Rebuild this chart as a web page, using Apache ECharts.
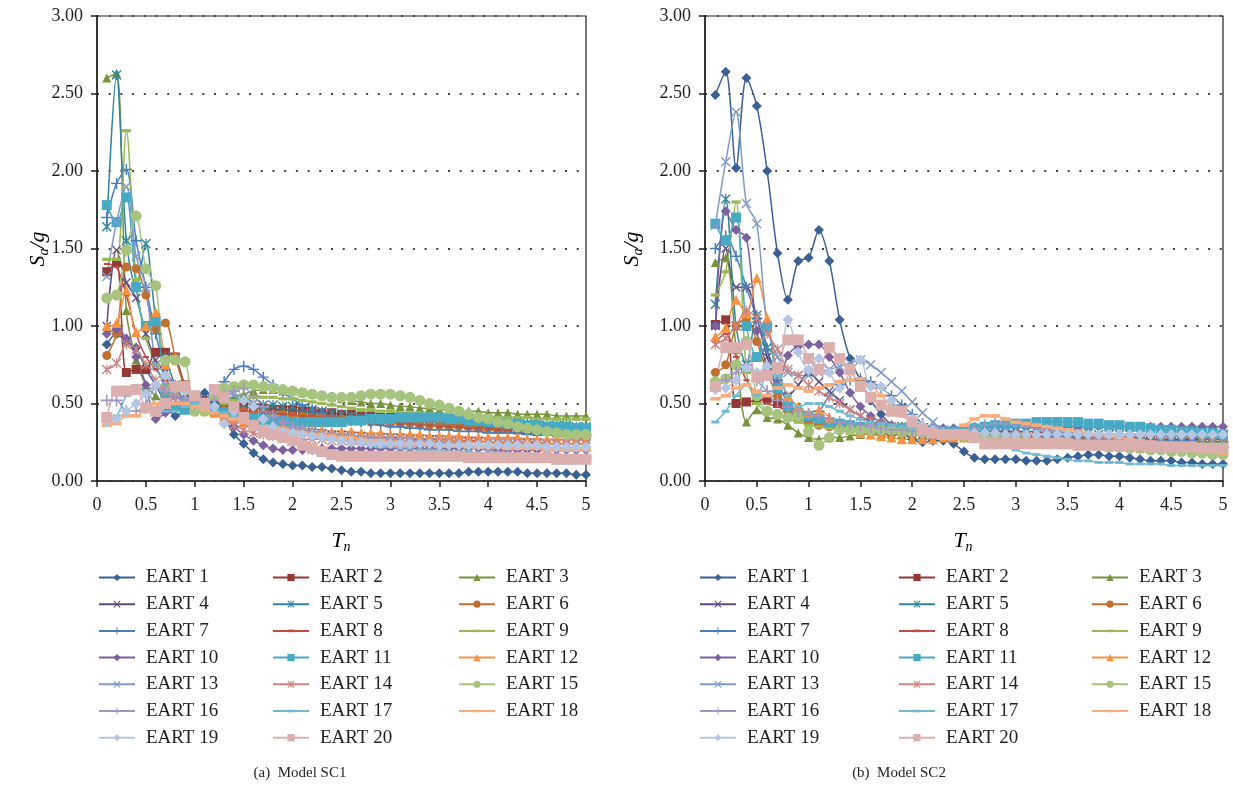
<!DOCTYPE html>
<html>
<head>
<meta charset="utf-8">
<title>Spectral acceleration – Models SC1 and SC2</title>
<script src="https://cdn.jsdelivr.net/npm/echarts@6/dist/echarts.min.js"></script>
<style>
  html, body { margin: 0; padding: 0; background: #ffffff; }
  #chart { width: 1233px; height: 793px; }
</style>
</head>
<body>
<div id="chart"></div>
<script>
// Natural periods T_n (s)
const periods = [0.1,0.2,0.3,0.4,0.5,0.6,0.7,0.8,0.9,1.0,
                 1.1,1.2,1.3,1.4,1.5,1.6,1.7,1.8,1.9,2.0,
                 2.1,2.2,2.3,2.4,2.5,2.6,2.7,2.8,2.9,3.0,
                 3.1,3.2,3.3,3.4,3.5,3.6,3.7,3.8,3.9,4.0,
                 4.1,4.2,4.3,4.4,4.5,4.6,4.7,4.8,4.9,5.0];

const xTicks = [0, 0.5, 1, 1.5, 2, 2.5, 3, 3.5, 4, 4.5, 5];
const yTicks = [0, 0.5, 1, 1.5, 2, 2.5, 3];

const recordNames = ['EART 1','EART 2','EART 3','EART 4','EART 5','EART 6','EART 7','EART 8','EART 9','EART 10',
                     'EART 11','EART 12','EART 13','EART 14','EART 15','EART 16','EART 17','EART 18','EART 19','EART 20'];

// ---- Model SC1: Sa/g for each record ----
const sc1E1  = [0.88,0.95,0.90,0.86,0.72,0.62,0.50,0.42,0.46,0.52, 0.57,0.52,0.42,0.30,0.24,0.18,0.14,0.12,0.11,0.10, 0.10,0.09,0.09,0.08,0.07,0.06,0.06,0.05,0.05,0.05, 0.05,0.05,0.05,0.05,0.05,0.05,0.05,0.06,0.06,0.06, 0.06,0.06,0.06,0.05,0.05,0.05,0.05,0.05,0.04,0.04];
const sc1E2  = [1.35,1.41,0.70,0.72,0.72,0.83,0.83,0.80,0.62,0.55, 0.52,0.50,0.50,0.49,0.48,0.47,0.47,0.46,0.46,0.46, 0.45,0.45,0.44,0.44,0.43,0.43,0.42,0.42,0.41,0.41, 0.40,0.40,0.39,0.39,0.38,0.37,0.37,0.36,0.35,0.35, 0.34,0.34,0.33,0.33,0.32,0.32,0.31,0.31,0.30,0.30];
const sc1E3  = [2.60,2.63,1.10,0.78,0.62,0.55,0.50,0.48,0.50,0.52, 0.50,0.50,0.52,0.54,0.56,0.58,0.59,0.59,0.58,0.58, 0.57,0.56,0.55,0.54,0.53,0.52,0.51,0.50,0.50,0.49, 0.48,0.48,0.47,0.47,0.46,0.46,0.45,0.45,0.45,0.44, 0.44,0.44,0.43,0.43,0.43,0.43,0.42,0.42,0.42,0.42];
const sc1E4  = [1.00,1.49,1.28,1.18,0.95,0.78,0.70,0.62,0.56,0.52, 0.50,0.48,0.46,0.44,0.42,0.40,0.38,0.36,0.35,0.34, 0.33,0.32,0.31,0.30,0.30,0.29,0.29,0.28,0.28,0.28, 0.28,0.27,0.27,0.27,0.27,0.26,0.26,0.26,0.26,0.25, 0.25,0.25,0.25,0.25,0.25,0.24,0.24,0.24,0.24,0.24];
const sc1E5  = [1.64,2.62,1.55,1.25,1.53,1.05,0.80,0.62,0.52,0.48, 0.50,0.52,0.52,0.51,0.50,0.50,0.49,0.49,0.48,0.48, 0.47,0.46,0.45,0.44,0.43,0.42,0.41,0.41,0.40,0.40, 0.40,0.40,0.40,0.39,0.39,0.39,0.38,0.38,0.38,0.38, 0.37,0.37,0.37,0.37,0.36,0.36,0.36,0.36,0.35,0.35];
const sc1E6  = [0.81,0.95,1.38,1.37,1.20,0.98,1.02,0.80,0.60,0.50, 0.48,0.47,0.46,0.45,0.45,0.44,0.44,0.43,0.43,0.42, 0.42,0.41,0.41,0.40,0.40,0.39,0.39,0.38,0.38,0.37, 0.37,0.37,0.36,0.36,0.36,0.35,0.35,0.35,0.34,0.34, 0.34,0.34,0.33,0.33,0.33,0.33,0.32,0.32,0.32,0.32];
const sc1E7  = [1.70,1.92,2.01,1.55,1.25,0.95,0.72,0.58,0.52,0.50, 0.52,0.55,0.64,0.72,0.74,0.72,0.67,0.62,0.57,0.53, 0.49,0.46,0.44,0.42,0.40,0.39,0.38,0.37,0.36,0.35, 0.35,0.34,0.34,0.33,0.33,0.33,0.32,0.32,0.32,0.31, 0.31,0.31,0.31,0.30,0.30,0.30,0.30,0.30,0.29,0.29];
const sc1E8  = [1.40,1.38,1.20,0.95,0.80,0.72,0.65,0.58,0.52,0.48, 0.47,0.47,0.46,0.46,0.45,0.45,0.44,0.44,0.43,0.43, 0.42,0.42,0.41,0.41,0.40,0.40,0.39,0.39,0.38,0.38, 0.37,0.37,0.36,0.36,0.35,0.35,0.35,0.34,0.34,0.34, 0.33,0.33,0.33,0.32,0.32,0.32,0.31,0.31,0.31,0.30];
const sc1E9  = [1.43,1.43,2.26,1.30,0.92,0.75,0.62,0.55,0.50,0.48, 0.48,0.48,0.50,0.52,0.53,0.54,0.54,0.54,0.53,0.53, 0.52,0.51,0.50,0.49,0.48,0.47,0.46,0.46,0.45,0.45, 0.44,0.44,0.44,0.43,0.43,0.43,0.42,0.42,0.42,0.42, 0.41,0.41,0.41,0.41,0.40,0.40,0.40,0.40,0.40,0.40];
const sc1E10 = [0.95,0.98,0.92,0.80,0.62,0.40,0.44,0.55,0.50,0.48, 0.50,0.48,0.42,0.35,0.30,0.26,0.23,0.21,0.20,0.20, 0.20,0.20,0.21,0.21,0.21,0.21,0.21,0.21,0.21,0.21, 0.21,0.21,0.21,0.21,0.21,0.21,0.21,0.21,0.21,0.21, 0.20,0.20,0.20,0.20,0.20,0.20,0.20,0.20,0.20,0.20];
const sc1E11 = [1.78,1.67,1.83,1.25,1.00,1.03,0.55,0.48,0.46,0.50, 0.48,0.46,0.44,0.42,0.41,0.40,0.40,0.39,0.39,0.38, 0.38,0.38,0.38,0.38,0.38,0.39,0.39,0.40,0.40,0.40, 0.41,0.41,0.41,0.41,0.41,0.40,0.40,0.39,0.39,0.38, 0.38,0.37,0.37,0.36,0.36,0.35,0.35,0.35,0.34,0.34];
const sc1E12 = [1.00,1.02,1.23,0.96,1.00,1.09,0.75,0.58,0.52,0.50, 0.46,0.44,0.42,0.40,0.38,0.37,0.36,0.35,0.35,0.34, 0.34,0.33,0.33,0.32,0.32,0.32,0.31,0.31,0.31,0.30, 0.30,0.30,0.30,0.29,0.29,0.29,0.29,0.28,0.28,0.28, 0.28,0.28,0.28,0.27,0.27,0.27,0.27,0.27,0.27,0.27];
const sc1E13 = [1.32,1.67,1.90,1.45,1.25,0.75,0.62,0.55,0.52,0.50, 0.52,0.55,0.56,0.56,0.54,0.50,0.46,0.42,0.38,0.35, 0.33,0.31,0.30,0.29,0.28,0.28,0.27,0.27,0.26,0.26, 0.26,0.26,0.25,0.25,0.25,0.25,0.25,0.25,0.25,0.25, 0.24,0.24,0.24,0.24,0.24,0.24,0.24,0.24,0.24,0.24];
const sc1E14 = [0.72,0.76,0.88,0.85,0.75,0.65,0.58,0.52,0.50,0.50, 0.48,0.45,0.40,0.36,0.33,0.31,0.30,0.29,0.28,0.28, 0.27,0.27,0.27,0.26,0.26,0.26,0.26,0.26,0.26,0.25, 0.25,0.25,0.25,0.25,0.25,0.25,0.25,0.25,0.25,0.25, 0.25,0.25,0.25,0.24,0.24,0.24,0.24,0.24,0.24,0.24];
const sc1E15 = [1.18,1.20,1.49,1.71,1.37,1.26,0.78,0.78,0.77,0.45, 0.45,0.55,0.60,0.61,0.62,0.62,0.61,0.60,0.59,0.58, 0.57,0.56,0.55,0.54,0.54,0.54,0.55,0.56,0.56,0.56, 0.55,0.54,0.52,0.50,0.49,0.47,0.45,0.43,0.41,0.40, 0.38,0.37,0.35,0.34,0.33,0.32,0.31,0.30,0.30,0.30];
const sc1E16 = [0.52,0.52,0.45,0.45,0.50,0.60,0.58,0.55,0.52,0.50, 0.50,0.52,0.55,0.58,0.60,0.55,0.48,0.42,0.38,0.35, 0.33,0.31,0.30,0.29,0.28,0.28,0.27,0.27,0.27,0.27, 0.26,0.26,0.26,0.25,0.25,0.24,0.23,0.22,0.21,0.20, 0.19,0.18,0.18,0.17,0.17,0.16,0.16,0.16,0.15,0.15];
const sc1E17 = [0.40,0.42,0.55,0.60,0.58,0.50,0.45,0.45,0.48,0.50, 0.48,0.46,0.44,0.42,0.40,0.38,0.36,0.34,0.32,0.31, 0.30,0.29,0.28,0.27,0.26,0.25,0.24,0.23,0.22,0.22, 0.21,0.21,0.20,0.20,0.20,0.19,0.19,0.19,0.18,0.18, 0.18,0.18,0.17,0.17,0.17,0.17,0.17,0.16,0.16,0.16];
const sc1E18 = [0.36,0.37,0.42,0.42,0.48,0.50,0.52,0.50,0.50,0.48, 0.46,0.44,0.42,0.40,0.38,0.36,0.35,0.34,0.33,0.32, 0.31,0.30,0.30,0.29,0.28,0.28,0.27,0.26,0.26,0.25, 0.25,0.24,0.24,0.24,0.23,0.23,0.23,0.22,0.22,0.22, 0.22,0.21,0.21,0.21,0.21,0.20,0.20,0.20,0.20,0.20];
const sc1E19 = [0.38,0.40,0.45,0.50,0.56,0.62,0.68,0.60,0.58,0.55, 0.50,0.48,0.37,0.45,0.52,0.48,0.40,0.35,0.32,0.31, 0.30,0.29,0.28,0.27,0.26,0.25,0.25,0.24,0.24,0.24, 0.24,0.24,0.24,0.24,0.23,0.23,0.23,0.23,0.23,0.23, 0.23,0.23,0.23,0.23,0.23,0.22,0.22,0.22,0.22,0.22];
const sc1E20 = [0.41,0.58,0.58,0.59,0.47,0.45,0.50,0.61,0.61,0.55, 0.50,0.59,0.54,0.48,0.41,0.36,0.32,0.30,0.28,0.26, 0.23,0.21,0.19,0.17,0.16,0.16,0.16,0.16,0.16,0.16, 0.16,0.16,0.16,0.16,0.16,0.16,0.16,0.15,0.15,0.15, 0.15,0.15,0.15,0.15,0.15,0.15,0.14,0.14,0.14,0.14];

// ---- Model SC2: Sa/g for each record ----
const sc2E1  = [2.49,2.64,2.02,2.60,2.42,2.00,1.47,1.17,1.42,1.44, 1.62,1.42,1.04,0.79,0.65,0.52,0.43,0.36,0.31,0.27, 0.25,0.26,0.26,0.24,0.19,0.15,0.14,0.14,0.14,0.14, 0.13,0.13,0.13,0.14,0.15,0.16,0.17,0.17,0.16,0.16, 0.15,0.14,0.13,0.13,0.13,0.12,0.12,0.11,0.11,0.11];
const sc2E2  = [1.01,1.04,0.50,0.51,0.52,0.53,0.50,0.47,0.44,0.41, 0.39,0.37,0.36,0.35,0.34,0.33,0.33,0.32,0.32,0.32, 0.31,0.31,0.31,0.31,0.31,0.30,0.30,0.30,0.30,0.30, 0.29,0.29,0.29,0.29,0.29,0.28,0.28,0.28,0.28,0.28, 0.28,0.28,0.27,0.27,0.27,0.27,0.27,0.27,0.27,0.27];
const sc2E3  = [1.41,1.44,0.85,0.38,0.46,0.41,0.40,0.36,0.31,0.28, 0.27,0.28,0.28,0.29,0.30,0.30,0.30,0.30,0.30,0.30, 0.30,0.30,0.30,0.30,0.29,0.29,0.28,0.27,0.27,0.26, 0.26,0.25,0.25,0.24,0.24,0.23,0.23,0.23,0.22,0.22, 0.22,0.21,0.21,0.21,0.20,0.20,0.20,0.20,0.19,0.19];
const sc2E4  = [1.00,1.50,1.25,1.25,1.05,0.80,0.60,0.55,0.62,0.70, 0.64,0.58,0.52,0.46,0.42,0.38,0.35,0.33,0.32,0.31, 0.30,0.30,0.30,0.30,0.30,0.29,0.29,0.28,0.28,0.28, 0.27,0.27,0.27,0.26,0.26,0.26,0.25,0.25,0.25,0.24, 0.24,0.24,0.23,0.23,0.23,0.22,0.22,0.22,0.21,0.21];
const sc2E5  = [1.14,1.82,1.00,0.75,1.07,0.86,0.55,0.45,0.42,0.40, 0.38,0.37,0.36,0.35,0.35,0.35,0.35,0.35,0.35,0.35, 0.34,0.33,0.32,0.32,0.32,0.32,0.32,0.32,0.32,0.32, 0.32,0.32,0.31,0.31,0.31,0.31,0.31,0.30,0.30,0.30, 0.30,0.30,0.29,0.29,0.29,0.29,0.28,0.28,0.28,0.28];
const sc2E6  = [0.70,0.75,1.00,1.05,0.90,0.70,0.55,0.45,0.40,0.38, 0.36,0.35,0.34,0.33,0.32,0.32,0.31,0.31,0.31,0.30, 0.30,0.30,0.30,0.30,0.29,0.29,0.29,0.29,0.28,0.28, 0.28,0.28,0.28,0.27,0.27,0.27,0.27,0.27,0.26,0.26, 0.26,0.26,0.26,0.26,0.25,0.25,0.25,0.25,0.25,0.25];
const sc2E7  = [1.50,1.58,1.45,1.25,1.05,0.85,0.65,0.50,0.45,0.42, 0.45,0.55,0.62,0.65,0.66,0.64,0.60,0.55,0.49,0.43, 0.37,0.33,0.31,0.30,0.30,0.30,0.30,0.30,0.30,0.30, 0.30,0.30,0.29,0.29,0.29,0.28,0.28,0.28,0.28,0.27, 0.27,0.27,0.27,0.26,0.26,0.26,0.26,0.25,0.25,0.25];
const sc2E8  = [0.90,0.95,0.80,0.65,0.55,0.50,0.48,0.45,0.42,0.40, 0.38,0.36,0.34,0.33,0.32,0.31,0.31,0.30,0.30,0.30, 0.30,0.29,0.29,0.29,0.28,0.28,0.28,0.27,0.27,0.27, 0.26,0.26,0.26,0.25,0.25,0.25,0.25,0.24,0.24,0.24, 0.24,0.23,0.23,0.23,0.23,0.23,0.22,0.22,0.22,0.22];
const sc2E9  = [1.20,1.35,1.80,0.70,0.50,0.45,0.42,0.40,0.38,0.36, 0.35,0.34,0.33,0.32,0.32,0.31,0.31,0.31,0.30,0.30, 0.30,0.30,0.30,0.29,0.29,0.29,0.28,0.28,0.28,0.28, 0.27,0.27,0.27,0.27,0.26,0.26,0.26,0.26,0.26,0.25, 0.25,0.25,0.25,0.25,0.24,0.24,0.24,0.24,0.24,0.24];
const sc2E10 = [1.00,1.74,1.62,1.57,0.97,0.74,0.62,0.81,0.87,0.88, 0.88,0.80,0.70,0.57,0.48,0.42,0.38,0.36,0.35,0.34, 0.34,0.34,0.34,0.34,0.34,0.35,0.35,0.35,0.35,0.35, 0.35,0.35,0.35,0.35,0.35,0.35,0.35,0.35,0.35,0.35, 0.35,0.35,0.35,0.35,0.35,0.35,0.35,0.35,0.35,0.35];
const sc2E11 = [1.66,1.55,1.70,1.00,0.80,0.99,0.60,0.48,0.44,0.42, 0.40,0.38,0.37,0.36,0.35,0.35,0.34,0.34,0.34,0.33, 0.33,0.32,0.32,0.32,0.33,0.34,0.35,0.36,0.36,0.37, 0.37,0.38,0.38,0.38,0.38,0.38,0.37,0.37,0.36,0.36, 0.35,0.35,0.34,0.33,0.33,0.32,0.32,0.31,0.31,0.30];
const sc2E12 = [0.93,0.99,1.17,1.08,1.31,1.05,0.70,0.55,0.48,0.44, 0.46,0.41,0.36,0.33,0.31,0.30,0.29,0.28,0.27,0.27, 0.27,0.27,0.28,0.28,0.28,0.28,0.28,0.28,0.27,0.27, 0.27,0.27,0.26,0.26,0.26,0.26,0.25,0.25,0.25,0.25, 0.24,0.24,0.24,0.24,0.23,0.23,0.23,0.23,0.22,0.22];
const sc2E13 = [1.65,2.06,2.38,1.79,1.66,1.00,0.80,0.70,0.68,0.68, 0.70,0.72,0.74,0.76,0.78,0.75,0.70,0.64,0.58,0.51, 0.44,0.38,0.33,0.31,0.30,0.31,0.31,0.31,0.31,0.30, 0.30,0.30,0.29,0.29,0.29,0.29,0.28,0.28,0.28,0.28, 0.27,0.27,0.27,0.26,0.26,0.26,0.26,0.25,0.25,0.25];
const sc2E14 = [0.88,0.92,1.00,1.10,1.05,0.95,0.85,0.72,0.68,0.62, 0.58,0.54,0.50,0.46,0.42,0.39,0.37,0.35,0.33,0.32, 0.31,0.30,0.30,0.29,0.29,0.28,0.28,0.27,0.27,0.26, 0.26,0.26,0.25,0.25,0.25,0.24,0.24,0.24,0.23,0.23, 0.23,0.23,0.22,0.22,0.22,0.22,0.21,0.21,0.21,0.21];
const sc2E15 = [0.64,0.66,0.75,0.90,0.55,0.45,0.43,0.41,0.42,0.32, 0.23,0.28,0.33,0.33,0.33,0.33,0.33,0.33,0.32,0.32, 0.31,0.31,0.30,0.30,0.29,0.29,0.28,0.28,0.27,0.27, 0.26,0.26,0.25,0.25,0.24,0.24,0.23,0.23,0.22,0.22, 0.21,0.21,0.20,0.20,0.19,0.19,0.18,0.18,0.17,0.17];
const sc2E16 = [0.60,0.65,0.70,0.75,0.65,0.58,0.52,0.48,0.45,0.43, 0.42,0.40,0.38,0.37,0.36,0.35,0.34,0.33,0.33,0.32, 0.32,0.31,0.31,0.31,0.32,0.34,0.36,0.37,0.37,0.36, 0.35,0.34,0.33,0.32,0.31,0.30,0.29,0.28,0.28,0.27, 0.27,0.26,0.26,0.25,0.25,0.24,0.24,0.23,0.23,0.22];
const sc2E17 = [0.38,0.45,0.55,0.62,0.55,0.68,0.68,0.55,0.48,0.50, 0.50,0.48,0.45,0.42,0.40,0.38,0.37,0.36,0.35,0.34, 0.33,0.32,0.31,0.30,0.29,0.28,0.26,0.24,0.22,0.20, 0.18,0.17,0.16,0.15,0.14,0.13,0.13,0.12,0.12,0.12, 0.11,0.11,0.11,0.11,0.10,0.10,0.10,0.10,0.10,0.10];
const sc2E18 = [0.53,0.55,0.60,0.62,0.58,0.55,0.60,0.62,0.60,0.58, 0.60,0.62,0.64,0.65,0.66,0.62,0.55,0.48,0.42,0.38, 0.34,0.32,0.31,0.32,0.36,0.40,0.42,0.42,0.40,0.38, 0.37,0.36,0.35,0.34,0.33,0.32,0.31,0.30,0.29,0.28, 0.27,0.26,0.25,0.24,0.23,0.22,0.21,0.20,0.19,0.18];
const sc2E19 = [0.59,0.60,0.65,0.73,0.70,0.74,0.72,1.04,0.83,0.72, 0.79,0.70,0.60,0.70,0.78,0.61,0.61,0.52,0.45,0.40, 0.36,0.33,0.31,0.30,0.30,0.31,0.31,0.31,0.30,0.30, 0.30,0.30,0.30,0.30,0.30,0.30,0.30,0.30,0.30,0.30, 0.30,0.30,0.30,0.30,0.30,0.30,0.30,0.30,0.30,0.30];
const sc2E20 = [0.61,0.86,0.86,0.88,0.67,0.68,0.73,0.91,0.91,0.79, 0.72,0.86,0.79,0.72,0.61,0.54,0.49,0.45,0.45,0.38, 0.33,0.31,0.30,0.30,0.30,0.28,0.24,0.24,0.24,0.24, 0.24,0.24,0.24,0.24,0.24,0.23,0.23,0.23,0.23,0.23, 0.23,0.23,0.22,0.22,0.22,0.22,0.22,0.21,0.21,0.21];

const sc1Values = [sc1E1,sc1E2,sc1E3,sc1E4,sc1E5,sc1E6,sc1E7,sc1E8,sc1E9,sc1E10,
                   sc1E11,sc1E12,sc1E13,sc1E14,sc1E15,sc1E16,sc1E17,sc1E18,sc1E19,sc1E20];
const sc2Values = [sc2E1,sc2E2,sc2E3,sc2E4,sc2E5,sc2E6,sc2E7,sc2E8,sc2E9,sc2E10,
                   sc2E11,sc2E12,sc2E13,sc2E14,sc2E15,sc2E16,sc2E17,sc2E18,sc2E19,sc2E20];

// ---- Marker shapes ----
const CROSS = 'path://M1,0L5,4L9,0L10,1L6,5L10,9L9,10L5,6L1,10L0,9L4,5L0,1Z';
const STAR  = 'path://M1,0L5,4L9,0L10,1L6,5L10,9L9,10L5,6L1,10L0,9L4,5L0,1Z M4.4,0H5.6V10H4.4Z';
const PLUS  = 'path://M4.35,0H5.65V4.35H10V5.65H5.65V10H4.35V5.65H0V4.35H4.35Z';
// short bar centred in a 10x10 box so it keeps its proportions when scaled
const DASH  = 'path://M0,0M10,10M0,3.2H10V6.8H0Z';

// Colour / marker per record (same in both models)
const looks = [
  { color: '#3A6094', symbol: 'diamond', size: 10 },
  { color: '#953735', symbol: 'rect',    size: 9 },
  { color: '#77933C', symbol: 'triangle',size: 9 },
  { color: '#604A7B', symbol: CROSS,     size: 9 },
  { color: '#31859C', symbol: STAR,      size: 10 },
  { color: '#C1712F', symbol: 'circle',  size: 9 },
  { color: '#4A7EBB', symbol: PLUS,      size: 11 },
  { color: '#BE4B48', symbol: DASH,      size: 6 },
  { color: '#98B954', symbol: DASH,      size: 9 },
  { color: '#7D60A0', symbol: 'diamond', size: 10 },
  { color: '#46AAC5', symbol: 'rect',    size: 10 },
  { color: '#F69240', symbol: 'triangle',size: 10 },
  { color: '#7E9BC8', symbol: CROSS,     size: 10 },
  { color: '#CE8482', symbol: STAR,      size: 10 },
  { color: '#A7C47F', symbol: 'circle',  size: 11 },
  { color: '#A295C0', symbol: PLUS,      size: 12 },
  { color: '#72B9D0', symbol: DASH,      size: 8 },
  { color: '#F9AC79', symbol: DASH,      size: 10 },
  { color: '#B5C6E2', symbol: 'diamond', size: 11 },
  { color: '#DBAFAE', symbol: 'rect',    size: 11 }
];

const SERIF = "'Liberation Serif', 'DejaVu Serif', serif";
const INK = '#231f20';

function buildSeries(values, axisIndex) {
  return values.map((vals, k) => ({
    name: recordNames[k],
    type: 'line',
    xAxisIndex: axisIndex,
    yAxisIndex: axisIndex,
    data: periods.map((t, i) => [t, vals[i]]),
    symbol: looks[k].symbol,
    symbolSize: looks[k].size,
    smooth: 0.3,
    lineStyle: { width: 1.5, color: looks[k].color },
    itemStyle: { color: looks[k].color },
    emphasis: { disabled: true },
    animation: false
  }));
}

function xAxisFor(gi) {
  return {
    gridIndex: gi, type: 'value', min: xTicks[0], max: xTicks[xTicks.length - 1], interval: 0.5,
    axisLine: { show: true, onZero: false, lineStyle: { color: INK, width: 1.5 } },
    axisTick: { show: true, inside: false, length: 6, lineStyle: { color: INK, width: 1.5 } },
    axisLabel: { margin: 15, color: INK, fontFamily: SERIF, fontSize: 18, formatter: v => String(v) },
    splitLine: { show: false }
  };
}
function yAxisFor(gi) {
  return {
    gridIndex: gi, type: 'value', min: yTicks[0], max: yTicks[yTicks.length - 1], interval: 0.5,
    axisLine: { show: true, onZero: false, lineStyle: { color: INK, width: 1.5 } },
    axisTick: { show: true, inside: false, length: 6, lineStyle: { color: INK, width: 1.5 } },
    axisLabel: { margin: 14, color: INK, fontFamily: SERIF, fontSize: 18, formatter: v => v.toFixed(2) },
    splitLine: { show: true, lineStyle: { color: '#444', width: 2, type: [2, 9.7] } }
  };
}

// Legend: three columns under each panel
const col1 = [0, 3, 6, 9, 12, 15, 18].map(i => recordNames[i]);
const col2 = [1, 4, 7, 10, 13, 16, 19].map(i => recordNames[i]);
const col3 = [2, 5, 8, 11, 14, 17].map(i => recordNames[i]);
function legendAt(left, names) {
  return {
    orient: 'vertical', left: left, top: 568, padding: 0,
    itemWidth: 36, itemHeight: 9, itemGap: 7.7,
    selectedMode: false, data: names,
    textStyle: { fontFamily: SERIF, fontSize: 19, color: INK, padding: [0, 0, 0, 6] }
  };
}

const titleRich = {
  i: { fontFamily: SERIF, fontStyle: 'italic', fontSize: 22, lineHeight: 26, color: INK },
  s: { fontFamily: SERIF, fontStyle: 'italic', fontSize: 14, lineHeight: 14, verticalAlign: 'bottom', color: INK }
};
function yTitle(x) {
  return { type: 'text', x: x, y: 249, rotation: Math.PI / 2,
    style: { text: '{i|S}{s|a}{i|/g}', rich: titleRich, align: 'center', verticalAlign: 'middle' } };
}
function xTitle(x) {
  return { type: 'text', x: x, y: 541,
    style: { text: '{i|T}{s|n}', rich: titleRich, align: 'center', verticalAlign: 'middle' } };
}
function caption(x, text) {
  return { type: 'text', x: x, y: 773,
    style: { text: text, fontFamily: SERIF, fontSize: 15, fill: INK, align: 'center', verticalAlign: 'middle' } };
}

const chart = echarts.init(document.getElementById('chart'), null, { renderer: 'canvas' });
chart.setOption({
  backgroundColor: '#ffffff',
  animation: false,
  grid: [
    { left: 97, top: 16, width: 489, height: 465, show: true, borderColor: INK, borderWidth: 1.2, backgroundColor: 'transparent', outerBoundsMode: 'none' },
    { left: 705, top: 16, width: 518, height: 465, show: true, borderColor: INK, borderWidth: 1.2, backgroundColor: 'transparent', outerBoundsMode: 'none' }
  ],
  xAxis: [xAxisFor(0), xAxisFor(1)],
  yAxis: [yAxisFor(0), yAxisFor(1)],
  legend: [
    legendAt(98, col1), legendAt(272, col2), legendAt(458, col3),
    legendAt(699, col1), legendAt(898, col2), legendAt(1091, col3)
  ],
  tooltip: { show: false },
  graphic: [
    yTitle(38), yTitle(632),
    xTitle(341), xTitle(963),
    caption(300, '(a)  Model SC1'), caption(899, '(b)  Model SC2')
  ],
  series: buildSeries(sc1Values, 0).concat(buildSeries(sc2Values, 1))
});
</script>
</body>
</html>
